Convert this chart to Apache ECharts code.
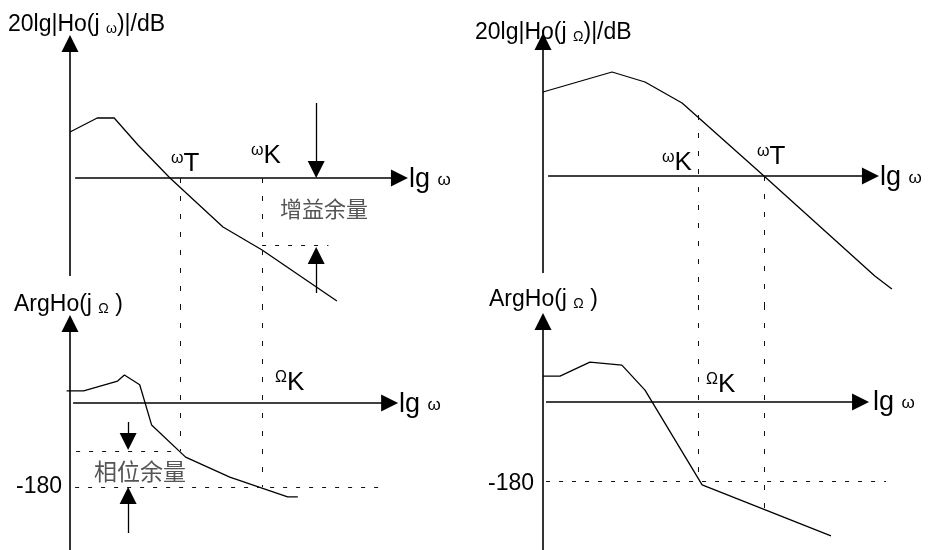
<!DOCTYPE html>
<html>
<head>
<meta charset="utf-8">
<script src="https://cdn.jsdelivr.net/npm/echarts@6/dist/echarts.min.js"></script>
<style>
  html, body { margin: 0; background: #fff; }
  #chart { width: 928px; height: 550px; }
</style>
</head>
<body>
<div id="chart"></div>
<script>
// 横轴: lgω (示意单位)，幅频: dB，相频: 度
const magLeft = [[0, 23], [0.8, 30], [1.3, 30], [2.0, 16.5], [2.94, 0], [4.5, -24.5], [5.65, -36], [7.85, -61.5]];
const phaseLeft = [[-0.1, 26], [0.4, 26], [1.4, 47], [1.6, 60], [2.05, 39], [2.4, -47], [3.4, -116], [4.7, -159], [6.4, -201], [6.7, -201]];
const magRight = [[0, 42], [2.03, 52], [3.0, 47], [4.09, 36.5], [6.5, 0], [9.76, -50], [10.26, -56.5]];
const phaseRight = [[0, 59], [0.5, 59], [1.38, 91], [2.32, 84], [3.0, 27], [4.68, -189], [8.47, -305]];

// 特征频率 (lgω)
const wLeftT = 3.24, wLeftK = 5.65;
const wRightK = 4.56, wRightT = 6.5;
const phase180 = -180;
const gainMarginLeft = -33.5;  // dB
const phaseMarginLeft = -103;  // 度

// 坐标轴 [起点, 箭头]
const axesTL = [[[0, -49], [0, 67.25]], [[0.15, 0], [9.69, 0]]];
const axesBL = [[[0, -315], [0, 170.4]], [[0.09, 0], [9.4, 0]]];
const axesTR = [[[0, -48.5], [0, 67.25]], [[0.15, 0], [9.63, 0]]];
const axesBR = [[[0, -337.2], [0, 183.4]], [[0.09, 0], [9.34, 0]]];

// 虚线
const vGuidesTL = [[[wLeftT, 0], [wLeftT, -63.5]], [[wLeftK, 0], [wLeftK, -63.5]]];
const hGuidesTL = [[[wLeftK, gainMarginLeft], [7.6, gainMarginLeft]]];
const vGuidesBL = [[[wLeftT, 210], [wLeftT, phaseMarginLeft]], [[wLeftK, 210], [wLeftK, phase180]]];
const hGuidesBL = [[[0.15, phase180], [9.26, phase180]], [[0.18, phaseMarginLeft], [wLeftT, phaseMarginLeft]]];
const vGuidesTR = [[[wRightK, 30.5], [wRightK, -64.5]], [[wRightT, 0], [wRightT, -64.5]]];
const vGuidesBR = [[[wRightK, 221], [wRightK, phase180]], [[wRightT, 221], [wRightT, -244]]];
const hGuidesBR = [[[0.09, phase180], [10.09, phase180]]];

// 余量箭头
const arrowsTL = [[[7.24, 37.5], [7.24, 4.25]], [[7.24, -57.5], [7.24, -38.75]]];
const arrowsBL = [[[1.71, -40.7], [1.71, -82.5]], [[1.71, -278.6], [1.71, -198.2]]];

const chart = echarts.init(document.getElementById('chart'));

const FONT = '"Liberation Sans", Arial, sans-serif';
const CJK = '"Noto Sans CJK SC", sans-serif';

// 把线段数组转成 markLine 数据
function segs(list) {
  return list.map(s => [{ coord: s[0] }, { coord: s[1] }]);
}

function curve(idx, data) {
  return {
    type: 'line', xAxisIndex: idx, yAxisIndex: idx, data: data,
    symbol: 'none', clip: false, silent: true,
    lineStyle: { color: '#000', width: 1.3 }
  };
}

function marks(idx, list, opt) {
  return {
    type: 'line', xAxisIndex: idx, yAxisIndex: idx, data: [],
    clip: false, silent: true,
    markLine: {
      silent: true,
      animation: false,
      symbol: opt.arrow ? ['none', 'triangle'] : ['none', 'none'],
      symbolSize: [17, 17],
      label: { show: false },
      emphasis: { disabled: true },
      lineStyle: {
        color: opt.color || '#000',
        width: opt.width || 1,
        type: opt.dash || 'solid'
      },
      itemStyle: { color: '#000' },
      data: segs(list)
    }
  };
}

function txt(x, y, text, rich, extra) {
  return {
    type: 'text', x: x, y: y, silent: true,
    style: Object.assign({
      text: text, fill: '#000', font: '23px ' + FONT,
      verticalAlign: 'middle', align: 'left', rich: rich || {}
    }, extra || {})
  };
}

const titleRich = {
  a: { fontSize: 23, fontFamily: FONT, color: '#000' },
  w: { fontSize: 14, fontFamily: FONT, color: '#000', verticalAlign: 'bottom' }
};
const lgRich = {
  a: { fontSize: 27, fontFamily: FONT, color: '#000' },
  w: { fontSize: 17, fontFamily: FONT, color: '#000' }
};
const supRich = {
  s: { fontSize: 16, fontFamily: FONT, color: '#000', verticalAlign: 'top' },
  b: { fontSize: 26, fontFamily: FONT, color: '#000' }
};

const option = {
  backgroundColor: '#fff',
  animation: false,
  grid: [
    { left: 53, top: 0, width: 357, height: 305 },
    { left: 53, top: 305, width: 357, height: 245 },
    { left: 526, top: 0, width: 374, height: 305 },
    { left: 526, top: 305, width: 374, height: 245 }
  ],
  xAxis: [
    { type: 'value', gridIndex: 0, min: -0.5, max: 10, show: false },
    { type: 'value', gridIndex: 1, min: -0.5, max: 10, show: false },
    { type: 'value', gridIndex: 2, min: -0.5, max: 10.5, show: false },
    { type: 'value', gridIndex: 3, min: -0.5, max: 10.5, show: false }
  ],
  yAxis: [
    { type: 'value', gridIndex: 0, min: -63.5, max: 89, show: false },
    { type: 'value', gridIndex: 1, min: -315, max: 210, show: false },
    { type: 'value', gridIndex: 2, min: -64.5, max: 88, show: false },
    { type: 'value', gridIndex: 3, min: -337.2, max: 221, show: false }
  ],
  series: [
    curve(0, magLeft),
    curve(1, phaseLeft),
    curve(2, magRight),
    curve(3, phaseRight),
    marks(0, axesTL, { arrow: true, width: 1.6 }),
    marks(1, axesBL, { arrow: true, width: 1.6 }),
    marks(2, axesTR, { arrow: true, width: 1.6 }),
    marks(3, axesBR, { arrow: true, width: 1.6 }),
    marks(0, arrowsTL, { arrow: true, width: 1.3 }),
    marks(1, arrowsBL, { arrow: true, width: 1.3 }),
    marks(0, vGuidesTL, { dash: [5, 13], color: '#111' }),
    marks(0, hGuidesTL, { dash: [4, 9], color: '#111' }),
    marks(1, vGuidesBL, { dash: [5, 13], color: '#111' }),
    marks(1, hGuidesBL, { dash: [4, 9], color: '#111' }),
    marks(2, vGuidesTR, { dash: [5, 13], color: '#111' }),
    marks(3, vGuidesBR, { dash: [5, 13], color: '#111' }),
    marks(3, hGuidesBR, { dash: [4, 9], color: '#111' })
  ],
  graphic: [
    txt(8, 25, '{a|20lg|Ho(j }{w|ω}{a|)|/dB}', titleRich),
    txt(475, 33, '{a|20lg|Ho(j }{w|Ω}{a|)|/dB}', titleRich),
    txt(14, 305, '{a|ArgHo(j }{w|Ω}{a| )}', titleRich),
    txt(489, 300, '{a|ArgHo(j }{w|Ω}{a| )}', titleRich),
    txt(409, 180, '{a|lg }{w|ω}', lgRich),
    txt(399, 405, '{a|lg }{w|ω}', lgRich),
    txt(880, 178, '{a|lg }{w|ω}', lgRich),
    txt(873, 403, '{a|lg }{w|ω}', lgRich),
    txt(171, 164, '{s|ω}{b|T}', supRich),
    txt(251, 156, '{s|ω}{b|K}', supRich),
    txt(662, 163, '{s|ω}{b|K}', supRich),
    txt(757, 157, '{s|ω}{b|T}', supRich),
    txt(275, 383, '{s|Ω}{b|K}', supRich),
    txt(706, 385, '{s|Ω}{b|K}', supRich),
    txt(62, 487, '-180', null, { font: '23px ' + FONT, align: 'right' }),
    txt(534, 484, '-180', null, { font: '23px ' + FONT, align: 'right' }),
    txt(280, 209, '增益余量', null, { font: '22px ' + CJK, fill: '#555' }),
    txt(94, 471, '相位余量', null, { font: '23px ' + CJK, fill: '#555' })
  ]
};

chart.setOption(option);
window.addEventListener('resize', function () {
  chart.resize();
});
</script>
</body>
</html>
